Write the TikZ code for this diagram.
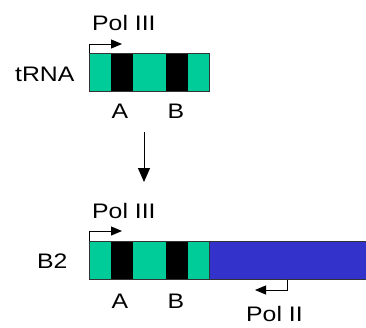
\documentclass[tikz,border=0pt]{standalone}
\usepackage{fontspec}
\setmainfont{Liberation Sans}
\usetikzlibrary{arrows.meta}
\definecolor{dgreen}{HTML}{00CC99}
\definecolor{dblue}{HTML}{3333CC}
\definecolor{edge}{HTML}{333333}
\newcommand{\sx}[1]{\scalebox{1.18}[1]{#1}}
\tikzset{
  lbl/.style={inner sep=0pt, font=\fontsize{21}{24}\selectfont},
  prom/.style={line width=1pt, -{Triangle[length=11pt,width=9pt]}},
}
\begin{document}
\begin{tikzpicture}[x=1pt,y=-1pt]
\useasboundingbox (0,0) rectangle (366,327);
% tRNA gene
\fill[dgreen] (89.5,53) rectangle (209.5,91.5);
\fill[black] (111,53) rectangle (133,91.5);
\fill[black] (166,53) rectangle (187.5,91.5);
\draw[edge, line width=0.8pt] (89.5,53) rectangle (209.5,91.5);
\coordinate (p3a) at (89.5,53);
\coordinate (p3aend) at (122,44);
\draw[prom] (p3a) |- (p3aend);
\node[lbl, anchor=base west] (pol3a) at (92,30.5) {\sx{Pol III}};
\node[lbl, anchor=base west] (trna) at (15,81.5) {\sx{tRNA}};
\node[lbl, anchor=base] (aa) at (120,118) {\sx{A}};
\node[lbl, anchor=base] (ba) at (176,118) {\sx{B}};
% down arrow
\coordinate (d1) at (144,132);
\coordinate (d2) at (144,182);
\draw[line width=1pt, -{Triangle[length=14pt,width=12pt]}] (d1) -- (d2);
% B2
\fill[dgreen] (89.5,241) rectangle (209.5,279.5);
\fill[black] (111,241) rectangle (133,279.5);
\fill[black] (166,241) rectangle (187.5,279.5);
\fill[dblue] (209.5,241) rectangle (367,279.5);
\draw[edge, line width=0.8pt] (367,241) -- (89.5,241) -- (89.5,279.5) -- (367,279.5);
\draw[edge, line width=0.8pt] (209.5,241) -- (209.5,279.5);
\coordinate (p3b) at (89.5,241);
\coordinate (p3bend) at (122,231);
\draw[prom] (p3b) |- (p3bend);
\coordinate (p2) at (287,279.5);
\coordinate (p2end) at (255,290);
\draw[prom] (p2) |- (p2end);
\node[lbl, anchor=base west] (pol3b) at (92,218.5) {\sx{Pol III}};
\node[lbl, anchor=base west] (b2) at (37,268.3) {\sx{B2}};
\node[lbl, anchor=base] (ab) at (120,308.3) {\sx{A}};
\node[lbl, anchor=base] (bb) at (176,308.3) {\sx{B}};
\node[lbl, anchor=base west] (pol2) at (246,321) {\sx{Pol II}};
\end{tikzpicture}
\end{document}
